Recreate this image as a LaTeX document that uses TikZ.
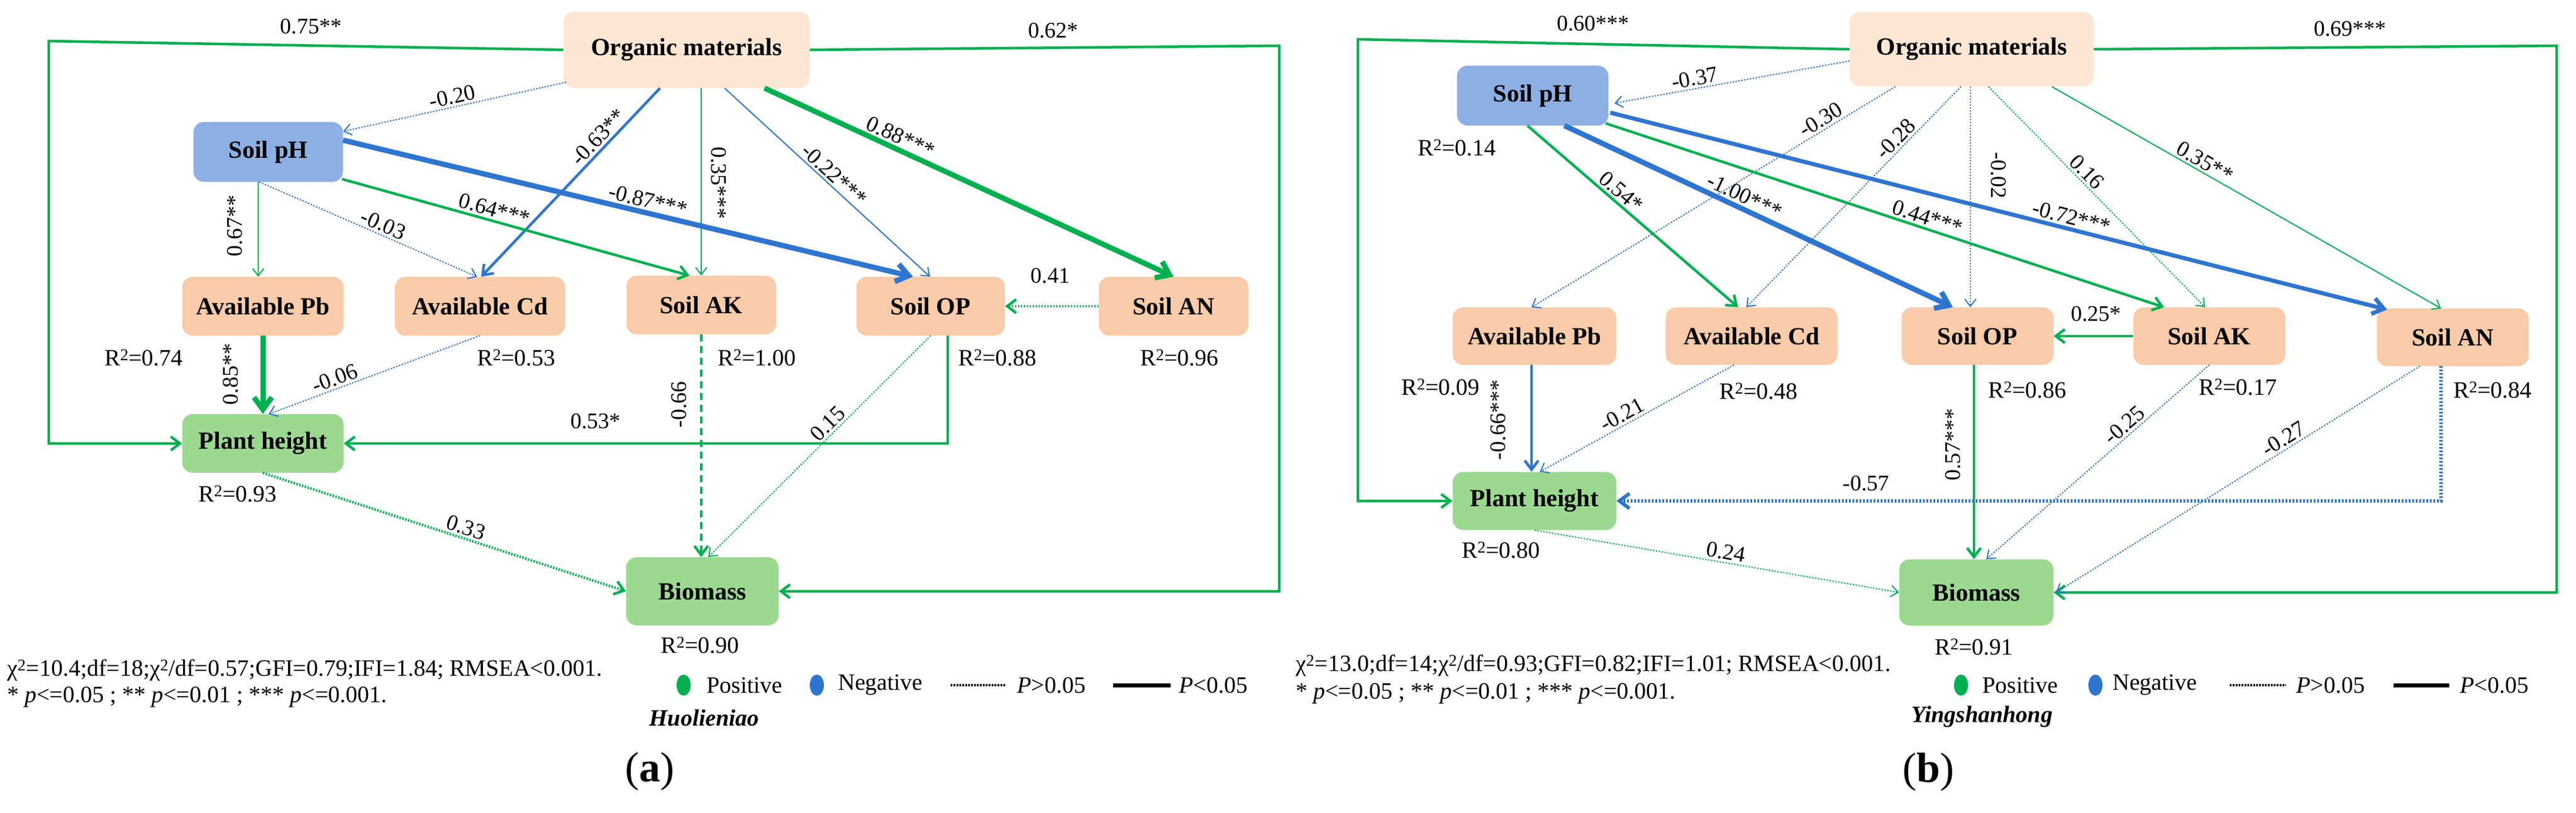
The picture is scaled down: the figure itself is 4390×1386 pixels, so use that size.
\documentclass[tikz,border=0pt]{standalone}
\usepackage{fontspec}
\setmainfont{Liberation Serif}
\usetikzlibrary{arrows.meta,calc}
\definecolor{G}{HTML}{00B050}
\definecolor{B}{HTML}{2E75D0}
\definecolor{OMc}{HTML}{FDE6D4}
\definecolor{Sc}{HTML}{F9CBA8}
\definecolor{PHc}{HTML}{8DB0E4}
\definecolor{GRc}{HTML}{9AD98F}
\begin{document}
\begin{tikzpicture}[x=1pt,y=-1pt,
  box/.style={rounded corners=18pt,inner sep=0pt,font=\fontsize{42}{48}\selectfont\bfseries},
  om/.style={box,fill=OMc},
  so/.style={box,fill=Sc},
  ph/.style={box,fill=PHc},
  gr/.style={box,fill=GRc},
  th/.style={line width=2pt},
  md/.style={line width=4.5pt},
  tk/.style={line width=9pt},
  dot/.style={dash pattern=on 2.5pt off 2.5pt},
  dsh/.style={dash pattern=on 12pt off 8pt},
  arr/.style={-{Straight Barb[length=10pt 1.2,width=16pt 1.6]}},
  lab/.style={font=\fontsize{38}{42}\selectfont,text=black,sloped,above,inner sep=4pt},
  vl/.style={font=\fontsize{38}{42}\selectfont,text=black,inner sep=0pt},
  r2/.style={font=\fontsize{40}{44}\selectfont,inner sep=0pt},
  txt/.style={font=\fontsize{40}{44}\selectfont,inner sep=0pt,anchor=west}]
\useasboundingbox[fill=white] (0,0) rectangle (4390,1386);

%% ---------------- panel (a)
\node[om,minimum width=420pt,minimum height=130pt] (OMa) at (1170,85) {Organic materials};
\node[ph,minimum width=255pt,minimum height=102pt] (pHa) at (457,259) {Soil pH};
\node[so,minimum width=275pt,minimum height=100pt] (Pba) at (448,522) {Available Pb};
\node[so,minimum width=290pt,minimum height=100pt] (Cda) at (818,522) {Available Cd};
\node[so,minimum width=255pt,minimum height=100pt] (AKa) at (1195,520) {Soil AK};
\node[so,minimum width=253pt,minimum height=100pt] (OPa) at (1586,522) {Soil OP};
\node[so,minimum width=255pt,minimum height=100pt] (ANa) at (2000,522) {Soil AN};
\node[gr,minimum width=275pt,minimum height=100pt] (PHa) at (448,756) {Plant height};
\node[gr,minimum width=260pt,minimum height=116pt] (Bioa) at (1197,1008) {Biomass};
\coordinate (aL) at (83,70);
\coordinate (aR) at (2180,78);
\coordinate (aOPs) at ($(OPa.south)+(29,0)$);

\draw[G,md,arr] (OMa.west) -- (aL) |- (PHa.west);
\draw[G,md,arr] (OMa.east) -- (aR) |- (Bioa.east);
\node[vl] at (530,45) {0.75**};
\node[vl] at (1795,52) {0.62*};

\draw[B,th,dot,arr] ($(OMa.south west)+(5,-10)$) -- node[lab,pos=.5]{-0.20} ($(pHa.east)+(0,-35)$);
\draw[B,md,arr] ($(OMa.south west)+(165,0)$) -- node[lab,pos=.3]{-0.63**} ($(Cda.north)+(2,0)$);
\draw[G,th,arr] (AKa.north |- OMa.south) -- (AKa.north);
\node[vl,rotate=-90] at (1225,312) {0.35***};
\draw[B,th,arr] ($(OMa.south west)+(275,0)$) -- node[lab,pos=.5]{-0.22***} ($(OPa.north)+(-1,0)$);
\draw[G,tk,arr] ($(OMa.south west)+(343,0)$) -- node[lab,pos=.32]{0.88***} (ANa.north);
\draw[G,th,arr] ($(pHa.south)+(-17,0)$) -- ($(Pba.north)+(-8,0)$);
\node[vl,rotate=90] at (400,385) {0.67**};
\draw[B,th,dot,arr] ($(pHa.south)+(-15,0)$) -- node[lab,pos=.55]{-0.03} ($(Cda.north)+(-5,0)$);
\draw[G,md,arr] ($(pHa.south east)+(-2,-5)$) -- node[lab,pos=.43]{0.64***} ($(AKa.north)+(-20,0)$);
\draw[B,tk,arr] ($(pHa.east)+(0,-20)$) -- node[lab,pos=.53]{-0.87***} ($(OPa.north)+(-30,0)$);
\draw[G,md,dot,arr] (ANa.west) -- (OPa.east);
\node[vl] at (1790,470) {0.41};
\draw[G,tk,arr] (Pba.south) -- (PHa.north);
\node[vl,rotate=90] at (393,638) {0.85**};
\draw[B,th,dot,arr] (Cda.south) -- node[lab,pos=.67]{-0.06} ($(PHa.north)+(10,0)$);
\draw[G,md,dsh,arr] (AKa.south) -- (AKa.south |- Bioa.north);
\node[vl,rotate=90] at (1157,690) {-0.66};
\draw[G,th,dot,arr] (OPa.south) -- node[lab,pos=.43]{0.15} ($(Bioa.north)+(10,0)$);
\draw[G,md,arr] (aOPs) |- (PHa.east);
\node[vl] at (1015,718) {0.53*};
\draw[G,md,dot,arr] (PHa.south) -- node[lab,pos=.55]{0.33} (Bioa.west);

\node[r2] at (245,610) {R\textsuperscript{2}=0.74};
\node[r2] at (880,610) {R\textsuperscript{2}=0.53};
\node[r2] at (1290,610) {R\textsuperscript{2}=1.00};
\node[r2] at (1700,610) {R\textsuperscript{2}=0.88};
\node[r2] at (2010,610) {R\textsuperscript{2}=0.96};
\node[r2] at (405,842) {R\textsuperscript{2}=0.93};
\node[r2] at (1193,1100) {R\textsuperscript{2}=0.90};

\node[txt] at (12,1143) {χ\textsuperscript{2}=10.4;df=18;χ\textsuperscript{2}/df=0.57;GFI=0.79;IFI=1.84; RMSEA<0.001.};
\node[txt] at (12,1188) {* \textit{p}<=0.05 ; ** \textit{p}<=0.01 ; *** \textit{p}<=0.001.};
\fill[G] (1165,1168) ellipse (12pt and 18pt);
\node[txt] at (1204,1168) {Positive};
\fill[B] (1392,1168) ellipse (12pt and 18pt);
\node[txt] at (1428,1168) {Negative};
\draw[black,line width=4pt,dash pattern=on 2.5pt off 2.5pt] (1620,1168) -- (1715,1168);
\node[txt] at (1733,1168) {\textit{P}>0.05};
\draw[black,line width=7pt] (1897,1168) -- (1995,1168);
\node[txt] at (2009,1168) {\textit{P}<0.05};
\node[txt,anchor=center] at (1200,1224) {\textbf{\textit{Huolieniao}}};
\node[font=\fontsize{72}{80}\selectfont] at (1107,1315) {(\textbf{a})};

%% ---------------- panel (b)
\node[om,minimum width=416pt,minimum height=127pt] (OMb) at (3360,84) {Organic materials};
\node[ph,minimum width=258pt,minimum height=102pt] (pHb) at (2612,163) {Soil pH};
\node[so,minimum width=279pt,minimum height=98pt] (Pbb) at (2615,573) {Available Pb};
\node[so,minimum width=293pt,minimum height=98pt] (Cdb) at (2985,573) {Available Cd};
\node[so,minimum width=259pt,minimum height=98pt] (OPb) at (3370,573) {Soil OP};
\node[so,minimum width=259pt,minimum height=98pt] (AKb) at (3765,573) {Soil AK};
\node[so,minimum width=259pt,minimum height=98pt] (ANb) at (4180,575) {Soil AN};
\node[gr,minimum width=279pt,minimum height=99pt] (PHb) at (2615,854) {Plant height};
\node[gr,minimum width=263pt,minimum height=113pt] (Biob) at (3368,1010) {Biomass};
\coordinate (bL) at (2314,67);
\coordinate (bR) at (4357,78);
\coordinate (bOMs) at ($(OMb.south west)+(206,0)$);
\coordinate (bOPs) at ($(OPb.south)+(-6,0)$);
\coordinate (bANs) at ($(ANb.south)+(-20,0)$);

\draw[G,md,arr] (OMb.west) -- (bL) |- (PHb.west);
\draw[G,md,arr] (OMb.east) -- (bR) |- (Biob.east);
\node[vl] at (2715,40) {0.60***};
\node[vl] at (4005,49) {0.69***};

\draw[B,th,dot,arr] ($(OMb.west)+(0,20)$) -- node[lab,pos=.65]{-0.37} ($(pHb.east)+(10,13)$);
\draw[B,th,dot,arr] ($(OMb.south west)+(78,0)$) -- node[lab,pos=.19]{-0.30} ($(Pbb.north)+(-5,0)$);
\draw[B,th,dot,arr] ($(OMb.south west)+(190,0)$) -- node[lab,pos=.27]{-0.28} ($(Cdb.north)+(-9,0)$);
\draw[B,th,dot,arr] (bOMs) -- (bOMs |- OPb.north);
\node[vl,rotate=-90] at (3406,299) {-0.02};
\draw[G,th,dot,arr] ($(OMb.south west)+(237,0)$) -- node[lab,pos=.42]{0.16} ($(AKb.north)+(-7,0)$);
\draw[G,th,arr] ($(OMb.south west)+(345,0)$) -- node[lab,pos=.38]{0.35**} ($(ANb.north)+(-20,0)$);
\draw[G,md,arr] ($(pHb.south)+(-9,0)$) -- node[lab,pos=.41]{0.54*} ($(Cdb.north)+(-23,0)$);
\draw[B,tk,arr] ($(pHb.south)+(54,0)$) -- node[lab,pos=.45]{-1.00***} ($(OPb.north)+(-42,0)$);
\draw[G,md,arr] ($(pHb.south east)+(-5,-4)$) -- node[lab,pos=.57]{0.44***} ($(AKb.north)+(-77,0)$);
\draw[B,line width=7pt,arr] ($(pHb.east)+(3,29)$) -- node[lab,pos=.59]{-0.72***} ($(ANb.north)+(-112,2)$);
\draw[G,md,arr] (AKb.west) -- (OPb.east);
\node[vl] at (3572,535) {0.25*};
\draw[B,md,arr] ($(Pbb.south)+(-5,0)$) -- ($(PHb.north)+(-5,0)$);
\node[vl,rotate=90] at (2553,716) {-0.66***};
\draw[B,th,dot,arr] ($(Cdb.south)+(-30,0)$) -- node[lab,pos=.55]{-0.21} ($(PHb.north)+(9,0)$);
\draw[G,md,arr] (bOPs) -- (bOPs |- Biob.north);
\node[vl,rotate=90] at (3328,758) {0.57***};
\draw[B,th,dot,arr] (AKb.south) -- node[lab,pos=.35]{-0.25} ($(Biob.north)+(17,0)$);
\draw[B,th,dot,arr] ($(ANb.south)+(-56,0)$) -- node[lab,pos=.36]{-0.27} ($(Biob.east)+(4,0)$);
\draw[B,line width=6pt,dash pattern=on 3pt off 3pt,arr] (bANs) |- (PHb.east);
\node[vl] at (3180,824) {-0.57};
\draw[G,th,dot,arr] (PHb.south) -- node[lab,pos=.52]{0.24} (Biob.west);

\node[r2] at (2483,252) {R\textsuperscript{2}=0.14};
\node[r2] at (2455,660) {R\textsuperscript{2}=0.09};
\node[r2] at (2997,667) {R\textsuperscript{2}=0.48};
\node[r2] at (3455,665) {R\textsuperscript{2}=0.86};
\node[r2] at (3814,660) {R\textsuperscript{2}=0.17};
\node[r2] at (4248,665) {R\textsuperscript{2}=0.84};
\node[r2] at (2558,938) {R\textsuperscript{2}=0.80};
\node[r2] at (3364,1103) {R\textsuperscript{2}=0.91};

\node[txt] at (2208,1135) {χ\textsuperscript{2}=13.0;df=14;χ\textsuperscript{2}/df=0.93;GFI=0.82;IFI=1.01; RMSEA<0.001.};
\node[txt] at (2208,1182) {* \textit{p}<=0.05 ; ** \textit{p}<=0.01 ; *** \textit{p}<=0.001.};
\fill[G] (3342,1168) ellipse (12pt and 18pt);
\node[txt] at (3378,1168) {Positive};
\fill[B] (3571,1168) ellipse (12pt and 18pt);
\node[txt] at (3600,1168) {Negative};
\draw[black,line width=4pt,dash pattern=on 2.5pt off 2.5pt] (3800,1168) -- (3896,1168);
\node[txt] at (3913,1168) {\textit{P}>0.05};
\draw[black,line width=7pt] (4079,1168) -- (4174,1168);
\node[txt] at (4192,1168) {\textit{P}<0.05};
\node[txt,anchor=center] at (3378,1222) {\textbf{\textit{Yingshanhong}}};
\node[font=\fontsize{72}{80}\selectfont] at (3286,1316) {(\textbf{b})};
\end{tikzpicture}
\end{document}
